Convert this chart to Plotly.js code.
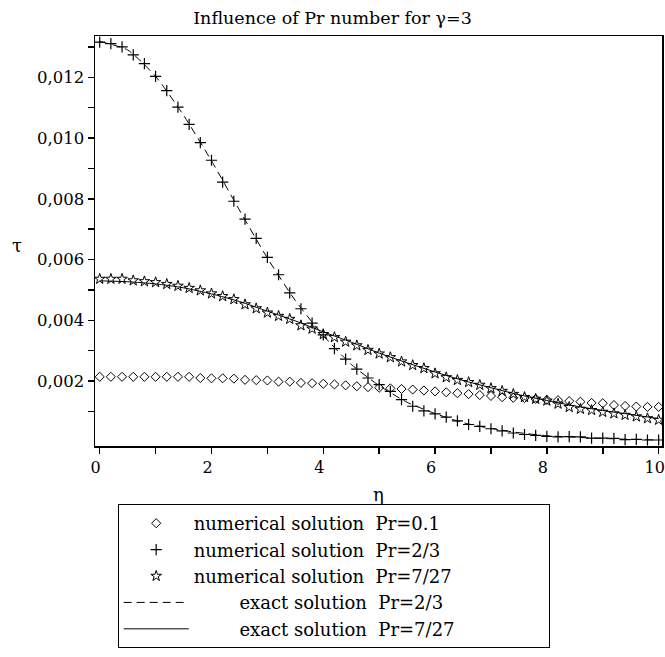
<!DOCTYPE html>
<html><head><meta charset="utf-8">
<script src="https://cdn.plot.ly/plotly-3.0.1.min.js"></script>
<style>html,body{margin:0;padding:0;background:#fff}</style>
</head><body><div id="chart" style="width:665px;height:657px"></div>
<script>
const etaNum = [0,0.2,0.4,0.6,0.8,1,1.2,1.4,1.6,1.8,2,2.2,2.4,2.6,2.8,3,3.2,3.4,3.6,3.8,4,4.2,4.4,4.6,4.8,5,5.2,5.4,5.6,5.8,6,6.2,6.4,6.6,6.8,7,7.2,7.4,7.6,7.8,8,8.2,8.4,8.6,8.8,9,9.2,9.4,9.6,9.8,10];
const tauPr01 = [0.00214,0.00214,0.00214,0.00214,0.00214,0.00214,0.00214,0.00214,0.00214,0.00210,0.00209,0.00209,0.00208,0.00204,0.00203,0.00202,0.00198,0.00198,0.00194,0.00193,0.00191,0.00189,0.00186,0.00183,0.00180,0.00178,0.00176,0.00174,0.00172,0.00169,0.00166,0.00163,0.00160,0.00157,0.00154,0.00151,0.00147,0.00145,0.00144,0.00141,0.00138,0.00137,0.00134,0.00132,0.00128,0.00127,0.00121,0.00118,0.00116,0.00115,0.00115];
const tauPr23num = [0.01316,0.01311,0.01300,0.01274,0.01245,0.01203,0.01156,0.01102,0.01045,0.00985,0.00927,0.00855,0.00792,0.00733,0.00670,0.00607,0.00550,0.00490,0.00438,0.00391,0.00352,0.00307,0.00272,0.00239,0.00210,0.00188,0.00166,0.00139,0.00117,0.00102,0.00092,0.00081,0.00069,0.00057,0.00051,0.00043,0.00036,0.00029,0.00024,0.00021,0.00018,0.00016,0.00017,0.00016,0.00012,0.00012,0.00011,0.00007,0.00008,0.00006,0.00006];
const tauPr727num = [0.00536,0.00536,0.00536,0.00531,0.00528,0.00525,0.00519,0.00513,0.00506,0.00498,0.00488,0.00479,0.00469,0.00452,0.00439,0.00425,0.00414,0.00404,0.00383,0.00372,0.00354,0.00344,0.00329,0.00317,0.00302,0.00290,0.00278,0.00264,0.00252,0.00242,0.00225,0.00212,0.00203,0.00196,0.00187,0.00176,0.00167,0.00157,0.00147,0.00141,0.00135,0.00125,0.00114,0.00108,0.00104,0.00098,0.00093,0.00088,0.00083,0.00077,0.00072];
const etaExact = [0,0.5,1,1.5,2,2.5,3,3.5,4,4.5,5,5.5,6,6.5,7,7.5,8,8.5,9,9.5,10];
const tauPr23exact = [0.01318,0.01290,0.01203,0.01075,0.00925,0.00763,0.00605,0.00465,0.00350,0.00255,0.00185,0.00130,0.00093,0.00063,0.00044,0.00030,0.00020,0.00015,0.00011,0.00008,0.00006];
const tauPr727exact = [0.00530,0.00527,0.00520,0.00507,0.00487,0.00462,0.00430,0.00398,0.00362,0.00328,0.00292,0.00260,0.00230,0.00202,0.00178,0.00155,0.00136,0.00118,0.00103,0.00090,0.00076];
const xTickVals = [0,1,2,3,4,5,6,7,8,9,10];
const xTickText = ['0','','2','','4','','6','','8','','10'];
const yTickVals = [0.001,0.002,0.003,0.004,0.005,0.006,0.007,0.008,0.009,0.010,0.011,0.012,0.013];
const yTickText = ['','0,002','','0,004','','0,006','','0,008','','0,010','','0,012',''];
const names = ['numerical solution\u00a0\u00a0Pr=0.1', 'numerical solution\u00a0\u00a0Pr=2/3', 'numerical solution\u00a0\u00a0Pr=7/27', 'exact solution\u00a0\u00a0Pr=2/3', 'exact solution\u00a0\u00a0Pr=7/27'];

const FONT = 'DejaVu Serif';
const pad = '\u00a0'.repeat(8);
const tail = '\u00a0'.repeat(16);

const traces = [
  {x: etaExact, y: tauPr23exact, mode: 'lines', name: pad + names[3], legendrank: 4,
   line: {color: '#000', width: 1, dash: '8px,5px', shape: 'spline', smoothing: 0.6}},
  {x: etaExact, y: tauPr727exact, mode: 'lines', name: pad + names[4], legendrank: 5,
   line: {color: '#000', width: 1, shape: 'spline', smoothing: 0.6}},
  {x: etaNum, y: tauPr01, mode: 'markers', name: names[0], legendrank: 1,
   marker: {symbol: 'diamond-open', size: 7, color: '#000', line: {width: 1, color: '#000'}}},
  {x: etaNum, y: tauPr23num, mode: 'markers', name: names[1], legendrank: 2,
   marker: {symbol: 'cross-thin-open', size: 8, color: '#000', line: {width: 1.2, color: '#000'}}},
  {x: etaNum, y: tauPr727num, mode: 'markers', name: names[2] + tail, legendrank: 3,
   marker: {symbol: 'star-open', size: 8, color: '#000', line: {width: 1, color: '#000'}}}
];

const layout = {
  width: 665, height: 657,
  margin: {l: 95, r: 3, t: 36, b: 211, pad: 0},
  paper_bgcolor: '#fff', plot_bgcolor: '#fff',
  font: {family: FONT, color: '#000', size: 17},
  title: {text: 'Influence of Pr number for \u03b3=3', x: 0.5, xref: 'container', xanchor: 'center',
          y: 0.9726, yref: 'container', yanchor: 'middle', font: {family: FONT, size: 17.5, color: '#000'}},
  xaxis: {range: [-0.084, 10.06], showgrid: false, zeroline: false, showline: true, mirror: true,
          linecolor: '#000', linewidth: 1.5, ticks: 'outside', ticklen: 6, tickwidth: 1.5, tickcolor: '#000',
          tickmode: 'array', tickvals: xTickVals, ticktext: xTickText, ticklabeloverflow: 'allow',
          ticklabelshift: -4,
          tickfont: {family: FONT, size: 16, color: '#000'},
          title: {text: '\u03b7', standoff: 12, font: {family: FONT, size: 18, color: '#000'}}},
  yaxis: {range: [-0.000138, 0.01336], showgrid: false, zeroline: false, showline: true, mirror: true,
          linecolor: '#000', linewidth: 1.5, ticks: 'outside', ticklen: 6, tickwidth: 1.5, tickcolor: '#000',
          tickmode: 'array', tickvals: yTickVals, ticktext: yTickText,
          tickfont: {family: FONT, size: 16.5, color: '#000'}},
  annotations: [{text: '\u03c4', xref: 'paper', yref: 'paper', x: -0.1376, y: 0.49,
                 xanchor: 'center', yanchor: 'middle', showarrow: false,
                 font: {family: FONT, size: 18, color: '#000'}}],
  showlegend: true,
  legend: {x: 0.040, y: -0.1415, xanchor: 'left', yanchor: 'top', bordercolor: '#000', borderwidth: 1,
           bgcolor: '#fff', itemwidth: 65, tracegroupgap: 0,
           font: {family: FONT, size: 18, color: '#000'}}
};

Plotly.newPlot('chart', traces, layout, {displayModeBar: false, staticPlot: true});
</script>
</body></html>
